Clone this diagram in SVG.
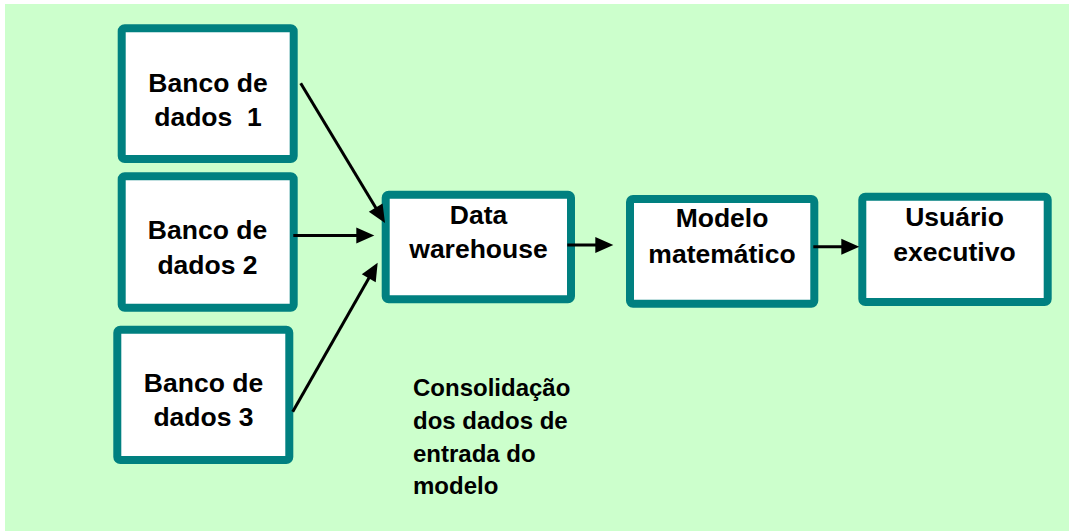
<svg xmlns="http://www.w3.org/2000/svg" width="1069" height="531" viewBox="0 0 1069 531">
  <style>
    .box { fill: #ffffff; stroke: #008080; stroke-width: 8; }
    .lbl { font-family: "Liberation Sans", Arial, sans-serif; font-weight: bold; font-size: 26.5px; fill: #000000; text-anchor: middle; }
    .note { font-family: "Liberation Sans", Arial, sans-serif; font-weight: bold; font-size: 24px; fill: #000000; }
    .conn { stroke: #000000; stroke-width: 3; fill: none; marker-end: url(#arrow); }
  </style>
  <defs>
    <marker id="arrow" markerUnits="userSpaceOnUse" markerWidth="18" markerHeight="16" refX="13" refY="8" orient="auto" overflow="visible">
      <path d="M0,0 L18,8 L0,16 Z" fill="#000000"/>
    </marker>
  </defs>

  <!-- page background -->
  <rect x="5" y="4" width="1064" height="527" fill="#ccffcc"/>

  <!-- source databases -->
  <g id="banco1">
    <rect class="box" x="121.7" y="28.3" width="172" height="130.7" rx="3"/>
    <text class="lbl" x="208" y="91.7">Banco de</text>
    <text class="lbl" x="208" y="126" xml:space="preserve">dados  1</text>
  </g>
  <g id="banco2">
    <rect class="box" x="121.7" y="176.3" width="172" height="131.4" rx="3"/>
    <text class="lbl" x="207.5" y="239">Banco de</text>
    <text class="lbl" x="207.5" y="274.3">dados 2</text>
  </g>
  <g id="banco3">
    <rect class="box" x="117.3" y="329.7" width="172" height="130.3" rx="3"/>
    <text class="lbl" x="203.5" y="391.7">Banco de</text>
    <text class="lbl" x="203.5" y="426">dados 3</text>
  </g>

  <!-- processing chain -->
  <g id="data-warehouse">
    <rect class="box" x="385.7" y="194.7" width="185.3" height="104.6" rx="3"/>
    <text class="lbl" x="478.5" y="224.3">Data</text>
    <text class="lbl" x="478.5" y="258.3">warehouse</text>
  </g>
  <g id="modelo-matematico">
    <rect class="box" x="630" y="199" width="184.3" height="104.7" rx="3"/>
    <text class="lbl" x="722" y="227.3">Modelo</text>
    <text class="lbl" x="722" y="263.3">matemático</text>
  </g>
  <g id="usuario-executivo">
    <rect class="box" x="862.3" y="196.7" width="185.4" height="105.3" rx="3"/>
    <text class="lbl" x="954.5" y="226">Usuário</text>
    <text class="lbl" x="954.5" y="261">executivo</text>
  </g>

  <!-- caption -->
  <g id="consolidacao">
    <text class="note" x="413" y="395.7">Consolidação</text>
    <text class="note" x="413" y="428.5">dos dados de</text>
    <text class="note" x="413" y="461.5">entrada do</text>
    <text class="note" x="413" y="494">modelo</text>
  </g>

  <!-- connectors -->
  <g id="connectors">
    <line class="conn" x1="300.7" y1="83.3" x2="382.4" y2="218.7"/>
    <line class="conn" x1="293.3" y1="235.5" x2="369.3" y2="235.5"/>
    <line class="conn" x1="292.7" y1="411.7" x2="375.2" y2="267"/>
    <line class="conn" x1="567.3" y1="245" x2="608.3" y2="245"/>
    <line class="conn" x1="813.3" y1="246.7" x2="854.3" y2="246.7"/>
  </g>
</svg>
